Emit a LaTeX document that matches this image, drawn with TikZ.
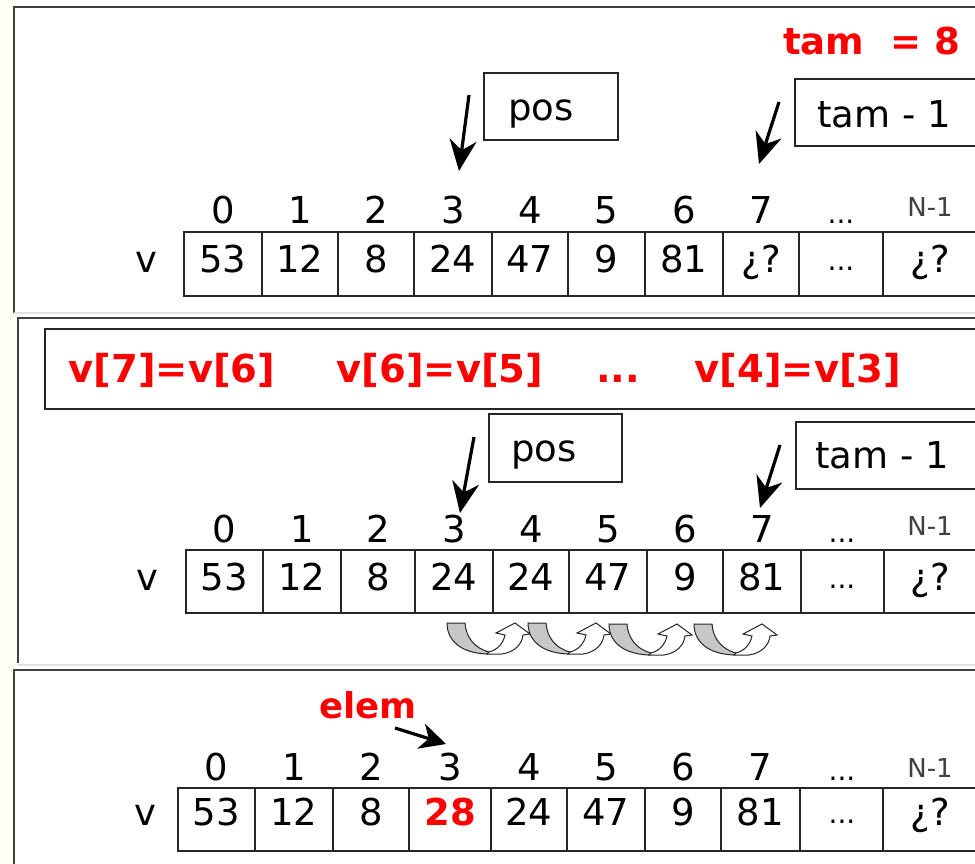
\documentclass[tikz,border=0pt]{standalone}
\usepackage{fontspec}
\setmainfont{DejaVu Sans}
\usetikzlibrary{arrows.meta}
\newcommand\fsval{\fontsize{37}{41}\selectfont}
\newcommand\fstag{\fontsize{37}{41}\selectfont}
\newcommand\fsnlab{\fontsize{26}{30}\selectfont}
\newcommand\fsdots{\fontsize{28}{32}\selectfont}
\newcommand\fsred{\bfseries\fontsize{37}{41}\selectfont}
\newcommand\fsredrow{\bfseries\fontsize{38.5}{42}\selectfont}
\newcommand\fselem{\bfseries\fontsize{35.5}{40}\selectfont}
\definecolor{framegray}{gray}{0.25}
\begin{document}
\begin{tikzpicture}[x=1pt,y=-1pt,
  frame/.style={draw=framegray,line width=2pt},
  faint/.style={draw=black!12,line width=1.5pt},
  cell/.style={draw=black!85,line width=1.5pt,inner sep=0pt},
  tagbox/.style={draw=black!85,line width=1.5pt,inner sep=0pt},
  val/.style={font=\fsval,anchor=base,inner sep=0pt},
  redval/.style={font=\fsred,text=red,anchor=base,inner sep=0pt},
  tagtext/.style={font=\fstag,anchor=base west,inner sep=0pt},
  redtext/.style={font=\fsred,text=red,anchor=base,inner sep=0pt},
  redrow/.style={font=\fsredrow,text=red,anchor=base,inner sep=0pt},
  nlab/.style={font=\fsnlab,text=black!75,anchor=base,inner sep=0pt},
  dotlab/.style={font=\fsdots,anchor=base,inner sep=0pt},
  ptr/.style={line width=3.2pt,-{Stealth[length=31pt,width=27pt,inset=10pt]}},
  shiftarr/.pic={
    % shaded back of the turn
    \filldraw[fill=black!22,draw=black!85,line width=1pt]
      (0,0) -- (18,0) .. controls (19,14) and (27,25) .. (42,29)
      -- (40,31) .. controls (13,30) and (0,17) .. cycle;
    % rising front with its head
    \filldraw[fill=white,draw=black!85,line width=1pt]
      (40,31) -- (55,31) .. controls (68,29) and (75,21) .. (76,12)
      -- (83,11) -- (68,0) -- (49,10) -- (58,12)
      .. controls (56,21) and (50,27) .. (42,29) -- cycle;
  }]
\useasboundingbox (0,0) rectangle (975,864);
\clip (0,0) rectangle (975,864);
\fill[yellow!4] (0,0) rectangle (14,864);

% ---------- panel frames ----------
\draw[frame] (975,7) -- (14,7) -- (14,313);
\draw[faint] (14,313) -- (975,313);
\draw[frame] (975,318) -- (18,318) -- (18,663);
\draw[faint] (18,665) -- (975,665);
\draw[frame] (975,670) -- (14,670) -- (14,864);

% ================= panel 1 =================
\node[redtext] (tam) at (871.5,55) {tam\ \ = 8};
\node[tagbox,minimum width=134,minimum height=67] (posA) at (551,106.5) {};
\node[tagtext] (posAt) at (508,121) {pos};
\node[tagbox,minimum width=185,minimum height=67] (lastA) at (887.5,112.5) {};
\node[tagtext] (lastAt) at (817,128) {tam - 1};
\coordinate (posAtail) at (469,95);
\coordinate (posAtip) at (459,171);
\coordinate (lastAtail) at (779,102);
\coordinate (lastAtip) at (759,164);
\draw[ptr] (posAtail) -- (posAtip);
\draw[ptr] (lastAtail) -- (lastAtip);

\node[val] (vA) at (146.5,272) {v};
\foreach \i/\l/\r/\t/\s in {0/184/262/53/val,1/262/338/12/val,2/338/414/8/val,
  3/414/492/24/val,4/492/568/47/val,5/568/645/9/val,6/645/723/81/val,7/723/799/¿?/val}{
  \node[cell,minimum width={\r-\l},minimum height=64] (a\i) at ({(\l+\r)/2},264) {};
  \node[\s] (av\i) at ({(\l+\r)/2},272) {\t};
  \node[val] (ai\i) at ({(\l+\r)/2},223) {\i};
}
\node[cell,minimum width=84,minimum height=64] (a8) at (841,264) {};
\node[dotlab] (av8) at (841,270) {...};
\node[dotlab] (ai8) at (841,223) {...};
\node[cell,minimum width=95,minimum height=64] (a9) at (930.5,264) {};
\node[val] (av9) at (930,272) {¿?};
\node[nlab] (ai9) at (930,216) {N-1};

% ================= panel 2 =================
\node[tagbox,minimum width=935,minimum height=80] (assign) at (512.5,369) {};
\node[redrow] (as1) at (172,382) {v[7]=v[6]};
\node[redrow] (as2) at (440,382) {v[6]=v[5]};
\node[redrow] (as3) at (618,382) {...};
\node[redrow] (as4) at (798,382) {v[4]=v[3]};

\node[tagbox,minimum width=133,minimum height=68] (posB) at (555.5,448) {};
\node[tagtext] (posBt) at (511,461) {pos};
\node[tagbox,minimum width=184,minimum height=67] (lastB) at (888,455.5) {};
\node[tagtext] (lastBt) at (815,468) {tam - 1};
\coordinate (posBtail) at (474,437);
\coordinate (posBtip) at (460,513);
\coordinate (lastBtail) at (780,445);
\coordinate (lastBtip) at (760,508);
\draw[ptr] (posBtail) -- (posBtip);
\draw[ptr] (lastBtail) -- (lastBtip);

\node[val] (vB) at (147.5,590) {v};
\foreach \i/\l/\r/\t/\s in {0/186/263/53/val,1/263/341/12/val,2/341/415/8/val,
  3/415/493/24/val,4/493/569/24/val,5/569/647/47/val,6/647/723/9/val,7/723/801/81/val}{
  \node[cell,minimum width={\r-\l},minimum height=63] (b\i) at ({(\l+\r)/2},581.5) {};
  \node[\s] (bv\i) at ({(\l+\r)/2},590) {\t};
  \node[val] (bi\i) at ({(\l+\r)/2},542) {\i};
}
\node[cell,minimum width=83,minimum height=63] (b8) at (842.5,581.5) {};
\node[dotlab] (bv8) at (842,588) {...};
\node[dotlab] (bi8) at (842,542) {...};
\node[cell,minimum width=94,minimum height=63] (b9) at (931,581.5) {};
\node[val] (bv9) at (930,590) {¿?};
\node[nlab] (bi9) at (930,535) {N-1};

\pic (shA) at (447,623) {shiftarr};
\pic (shB) at (528,623) {shiftarr};
\pic (shC) at (609,624) {shiftarr};
\pic (shD) at (694,624) {shiftarr};

% ================= panel 3 =================
\node[redtext,font=\fselem] (elem) at (368,718) {elem};
\coordinate (elemtail) at (395,728);
\coordinate (elemtip) at (446,744);
\draw[ptr,-{Stealth[length=26pt,width=26pt,inset=8pt]}] (elemtail) -- (elemtip);

\node[val] (vC) at (145.5,825) {v};
\foreach \i/\l/\r/\t/\s in {0/178/255/53/val,1/255/333/12/val,2/333/409/8/val,
  3/409/491/28/redval,4/491/567/24/val,5/567/645/47/val,6/645/721/9/val,7/721/800/81/val}{
  \node[cell,minimum width={\r-\l},minimum height=63] (c\i) at ({(\l+\r)/2},819.5) {};
  \node[\s] (cv\i) at ({(\l+\r)/2},825) {\t};
  \node[val] (ci\i) at ({(\l+\r)/2},780) {\i};
}
\node[cell,minimum width=83,minimum height=63] (c8) at (841.5,819.5) {};
\node[dotlab] (cv8) at (842,823) {...};
\node[dotlab] (ci8) at (842,780) {...};
\node[cell,minimum width=95,minimum height=63] (c9) at (930.5,819.5) {};
\node[val] (cv9) at (930,825) {¿?};
\node[nlab] (ci9) at (930,777) {N-1};
\end{tikzpicture}
\end{document}
